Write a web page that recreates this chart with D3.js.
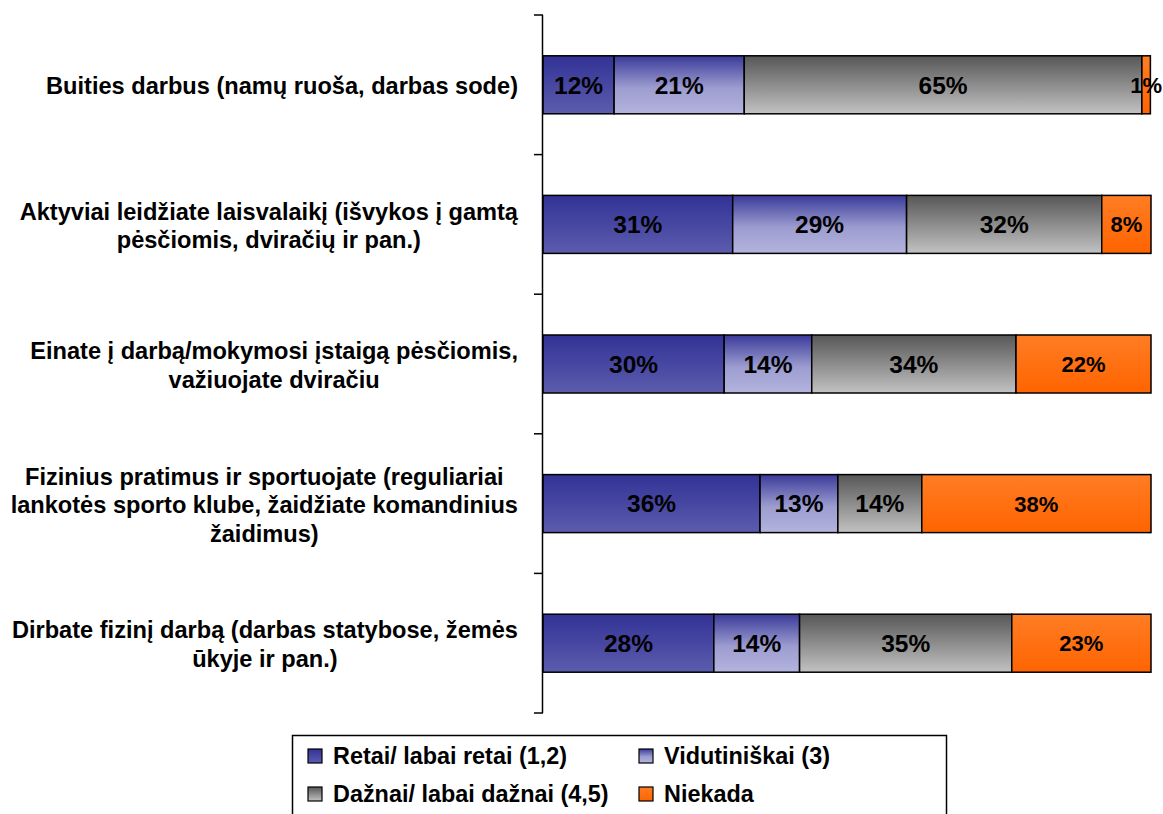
<!DOCTYPE html>
<html>
<head>
<meta charset="utf-8">
<script src="https://cdn.jsdelivr.net/npm/d3@7"></script>
<style>
  body { margin: 0; background: #fff; }
  svg { display: block; font-family: Arial, "Liberation Sans", sans-serif; font-weight: bold; }
</style>
</head>
<body>
<svg id="chart" width="1163" height="814"></svg>
<script>
// categories, one array of lines per row
const categories = [
  ["Buities darbus (namų ruoša, darbas sode)"],
  ["Aktyviai leidžiate laisvalaikį (išvykos į gamtą", "pėsčiomis, dviračių ir pan.)"],
  ["Einate į darbą/mokymosi įstaigą pėsčiomis,", "važiuojate dviračiu"],
  ["Fizinius pratimus ir sportuojate (reguliariai", "lankotės sporto klube, žaidžiate komandinius", "žaidimus)"],
  ["Dirbate fizinį darbą (darbas statybose, žemės", "ūkyje ir pan.)"]
];
const seriesNames = ["Retai/ labai retai (1,2)", "Vidutiniškai (3)", "Dažnai/ labai dažnai (4,5)", "Niekada"];
const retai = [11.7, 31.2, 29.8, 35.7, 28.1];
const vidutiniskai = [21.4, 28.6, 14.4, 12.8, 14.1];
const daznai = [65.4, 32.1, 33.6, 13.8, 34.9];
const niekada = [1.4, 8.1, 22.2, 37.7, 22.9];

const keys = ["retai", "vidutiniskai", "daznai", "niekada"];
const rows = categories.map((c, i) => ({
  idx: i, retai: retai[i], vidutiniskai: vidutiniskai[i], daznai: daznai[i], niekada: niekada[i]
}));

const svg = d3.select("#chart");
const defs = svg.append("defs");

// vertical gradients like the old office chart fills
const grads = [
  [["0", "#323296"], ["1", "#5c5cae"]],
  [["0", "#3a3a9a"], ["0.55", "#9c9cd0"], ["1", "#b4b4de"]],
  [["0", "#575757"], ["1", "#c2c2c2"]],
  [["0", "#ff7d24"], ["1", "#ff6400"]]
];
grads.forEach((stops, i) => {
  const g = defs.append("linearGradient")
    .attr("id", "g" + i)
    .attr("x1", 0).attr("y1", 0).attr("x2", 0).attr("y2", 1);
  stops.forEach(s => g.append("stop").attr("offset", s[0]).attr("stop-color", s[1]));
});

const x = d3.scaleLinear().domain([0, 100]).range([543, 1151]);
const y = d3.scaleBand()
  .domain(d3.range(categories.length))
  .range([15, 713])
  .paddingInner(0.5845)
  .paddingOuter(0.29225);

const stacked = d3.stack().keys(keys)(rows);

const layers = svg.selectAll("g.layer")
  .data(stacked)
  .join("g")
  .attr("class", "layer")
  .attr("fill", (d, i) => `url(#g${i})`);

layers.selectAll("rect")
  .data(d => d)
  .join("rect")
  .attr("x", d => x(d[0]))
  .attr("y", d => y(d.data.idx))
  .attr("width", d => x(d[1]) - x(d[0]))
  .attr("height", y.bandwidth())
  .attr("stroke", "#000")
  .attr("stroke-width", 1.5);

layers.each(function (layer, i) {
  d3.select(this).selectAll("text")
    .data(layer)
    .join("text")
    .attr("x", d => (x(d[0]) + x(d[1])) / 2)
    .attr("y", d => y(d.data.idx) + y.bandwidth() / 2)
    .attr("dy", "0.36em")
    .attr("text-anchor", "middle")
    .attr("font-size", i === 3 ? "22px" : "24.5px")
    .attr("fill", "#000")
    .text(d => Math.round(d[1] - d[0]) + "%");
});

// axis with ticks between categories
const axisG = svg.append("g");
axisG.append("line")
  .attr("x1", 542.5).attr("x2", 542.5)
  .attr("y1", 15).attr("y2", 713)
  .attr("stroke", "#000").attr("stroke-width", 1.5);
const tickYs = y.domain().map(d => y(d) - y.step() * y.paddingInner() / 2).concat([713]);
axisG.selectAll("line.tick")
  .data(tickYs)
  .join("line")
  .attr("class", "tick")
  .attr("x1", 534).attr("x2", 543)
  .attr("y1", d => d).attr("y2", d => d)
  .attr("stroke", "#000").attr("stroke-width", 1.5);

// category labels: block right-aligned, lines centred inside it
const labelRight = 518;
const lineH = 28.5;
const labels = svg.append("g").attr("font-size", "23.6px");
categories.forEach((lines, i) => {
  const g = labels.append("g");
  const cy = y(i) + y.bandwidth() / 2 + 1;
  const t = g.selectAll("text")
    .data(lines)
    .join("text")
    .attr("text-anchor", "middle")
    .attr("y", (d, k) => cy + (k - (lines.length - 1) / 2) * lineH)
    .attr("dy", "0.36em")
    .text(d => d);
  let maxW = 0;
  t.each(function () { maxW = Math.max(maxW, this.getComputedTextLength()); });
  t.attr("x", labelRight - maxW / 2);
});

// legend
const legend = svg.append("g");
legend.append("rect")
  .attr("x", 292.5).attr("y", 735.5)
  .attr("width", 654).attr("height", 100)
  .attr("fill", "#fff").attr("stroke", "#000").attr("stroke-width", 1.5);
const legendPos = [[308, 756], [639, 756], [308, 794], [639, 794]];
seriesNames.forEach((name, i) => {
  const [lx, ly] = legendPos[i];
  legend.append("rect")
    .attr("x", lx).attr("y", ly - 7)
    .attr("width", 14).attr("height", 14)
    .attr("fill", `url(#g${i})`)
    .attr("stroke", "#000").attr("stroke-width", 1.2);
  legend.append("text")
    .attr("x", lx + 25).attr("y", ly)
    .attr("dy", "0.36em")
    .attr("font-size", "23.4px")
    .text(name);
});
</script>
</body>
</html>
